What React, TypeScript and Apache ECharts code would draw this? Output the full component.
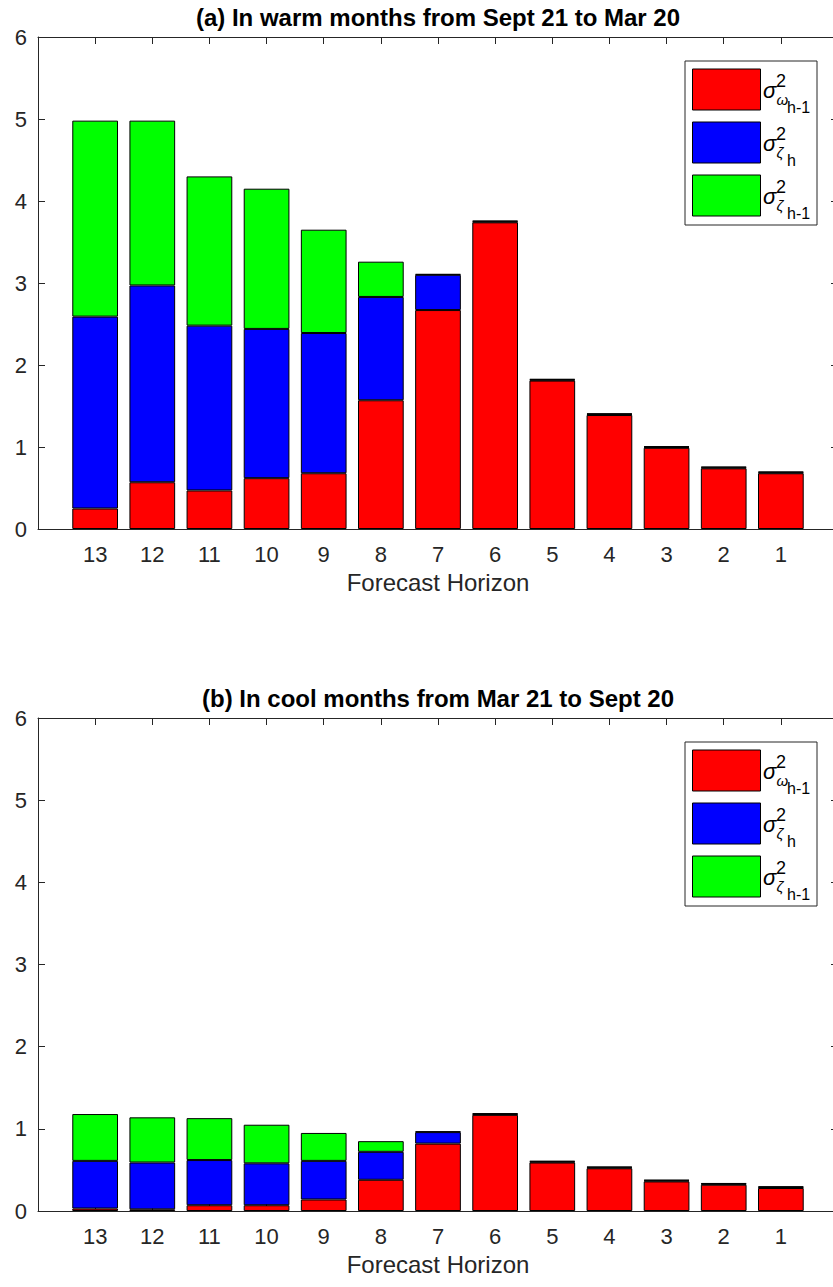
import React, { useEffect, useRef } from "react";
import * as echarts from "echarts";

const horizons = [13, 12, 11, 10, 9, 8, 7, 6, 5, 4, 3, 2, 1];
const yTicks = [0, 1, 2, 3, 4, 5, 6];

// (a) warm months
const warmOmega = [0.25, 0.57, 0.47, 0.62, 0.68, 1.57, 2.67, 3.74, 1.81, 1.39, 0.99, 0.74, 0.68];
const warmZetaH = [2.34, 2.4, 2.01, 1.82, 1.71, 1.26, 0.43, 0.01, 0.01, 0.01, 0.01, 0.01, 0.01];
const warmZetaH1 = [2.39, 2.01, 1.82, 1.71, 1.26, 0.43, 0.01, 0.01, 0.01, 0.01, 0.01, 0.01, 0.01];

// (b) cool months
const coolOmega = [0.03, 0.02, 0.07, 0.07, 0.14, 0.38, 0.82, 1.17, 0.59, 0.52, 0.36, 0.32, 0.28];
const coolZetaH = [0.58, 0.57, 0.55, 0.51, 0.47, 0.34, 0.14, 0.01, 0.01, 0.01, 0.01, 0.01, 0.01];
const coolZetaH1 = [0.57, 0.55, 0.51, 0.47, 0.34, 0.13, 0.01, 0.01, 0.01, 0.01, 0.01, 0.01, 0.01];

const titles = [
  "(a) In warm months from Sept 21 to Mar 20",
  "(b) In cool months from Mar 21 to Sept 20",
];
const seriesNames = ["σ²ω(h-1)", "σ²ζ(h)", "σ²ζ(h-1)"];
const colors = ["#ff0000", "#0000ff", "#00ff00"];

const FONT = "'Liberation Sans', Arial, Helvetica, sans-serif";
const AX = "#262626";

const panels = [
  { top: 37, height: 492, data: [warmOmega, warmZetaH, warmZetaH1] },
  { top: 718, height: 493, data: [coolOmega, coolZetaH, coolZetaH1] },
];
const GRID_LEFT = 38;
const GRID_WIDTH = 800;
const X_UNITS = horizons.length + 1; // frame spans 0..14
const BAND = GRID_WIDTH / X_UNITS;

function legendGraphics(T: number) {
  const els: any[] = [];
  els.push({
    type: "rect",
    shape: { x: 685, y: T + 24, width: 132, height: 164 },
    style: { fill: "#fff", stroke: AX, lineWidth: 1 },
    z: 100,
  });
  const subs = [
    { sym: "ω", sub: "h-1" },
    { sym: "ζ", sub: "h" },
    { sym: "ζ", sub: "h-1" },
  ];
  subs.forEach((s, i) => {
    const py = T + 32 + i * 53;
    const cy = py + 20.5;
    els.push({
      type: "rect",
      shape: { x: 692.5, y: py, width: 68, height: 41 },
      style: { fill: colors[i], stroke: "#000", lineWidth: 1 },
      z: 101,
    });
    els.push({
      type: "text",
      x: 763,
      y: cy + 1,
      style: { text: "σ", fontSize: 22, fontFamily: FONT, fontStyle: "italic", fill: "#000", textAlign: "left", textVerticalAlign: "middle" },
      z: 101,
    });
    els.push({
      type: "text",
      x: 776,
      y: cy - 9,
      style: { text: "2", fontSize: 18, fontFamily: FONT, fill: "#000", textAlign: "left", textVerticalAlign: "middle" },
      z: 101,
    });
    els.push({
      type: "text",
      x: 776.5,
      y: cy + 10,
      style: { text: s.sym, fontSize: 15, fontFamily: FONT, fontStyle: "italic", fill: "#000", textAlign: "left", textVerticalAlign: "middle" },
      z: 101,
    });
    els.push({
      type: "text",
      x: 787,
      y: cy + 18,
      style: { text: s.sub, fontSize: 16, fontFamily: FONT, fill: "#000", textAlign: "left", textVerticalAlign: "middle" },
      z: 101,
    });
  });
  return els;
}

export default function App() {
  const ref = useRef<HTMLDivElement>(null);
  useEffect(() => {
    if (!ref.current) return;
    const chart = echarts.init(ref.current, undefined, { renderer: "svg" });

    const grid: any[] = [];
    const xAxis: any[] = [];
    const yAxis: any[] = [];
    const series: any[] = [];
    const graphic: any[] = [];

    panels.forEach((p, pi) => {
      const frameGrid = pi * 2;
      const barGrid = pi * 2 + 1;
      // frame grid (box with ticks on all sides)
      grid.push({ left: GRID_LEFT, top: p.top, width: GRID_WIDTH, height: p.height, containLabel: false });
      // bar grid: 13 bands centered on frame ticks 1..13
      grid.push({ left: GRID_LEFT + BAND / 2, top: p.top, width: BAND * horizons.length, height: p.height, containLabel: false });

      const baseX = {
        type: "value",
        gridIndex: frameGrid,
        min: 0,
        max: X_UNITS,
        interval: 1,
        splitLine: { show: false },
        axisLine: { show: true, onZero: false, lineStyle: { color: AX, width: 1 } },
        axisTick: { show: true, inside: true, length: 7, lineStyle: { color: AX } },
      };
      xAxis.push({
        ...baseX,
        position: "bottom",
        name: "Forecast Horizon",
        nameLocation: "middle",
        nameGap: 41,
        nameTextStyle: { fontSize: 24, fontFamily: FONT, color: AX },
        axisLabel: {
          show: true,
          margin: 14,
          fontSize: 22,
          fontFamily: FONT,
          color: AX,
          showMinLabel: false,
          showMaxLabel: false,
          formatter: (v: number) => (v >= 1 && v <= horizons.length ? String(horizons[v - 1]) : ""),
        },
      });
      xAxis.push({ ...baseX, position: "top", name: "", axisLabel: { show: false } });
      xAxis.push({
        type: "category",
        gridIndex: barGrid,
        data: horizons.map(String),
        boundaryGap: true,
        show: false,
      });

      const baseY = {
        type: "value",
        gridIndex: frameGrid,
        min: yTicks[0],
        max: yTicks[yTicks.length - 1],
        interval: 1,
        splitLine: { show: false },
        axisLine: { show: true, onZero: false, lineStyle: { color: AX, width: 1 } },
        axisTick: { show: true, inside: true, length: 7, lineStyle: { color: AX } },
      };
      yAxis.push({
        ...baseY,
        position: "left",
        axisLabel: { show: true, margin: 11, fontSize: 22, fontFamily: FONT, color: AX },
      });
      yAxis.push({ ...baseY, position: "right", axisLabel: { show: false } });
      yAxis.push({
        type: "value",
        gridIndex: barGrid,
        min: yTicks[0],
        max: yTicks[yTicks.length - 1],
        show: false,
        splitLine: { show: false },
      });

      p.data.forEach((arr, si) => {
        series.push({
          type: "bar",
          name: seriesNames[si],
          xAxisIndex: pi * 3 + 2,
          yAxisIndex: pi * 3 + 2,
          stack: "panel" + pi,
          barWidth: "80%",
          itemStyle: { color: colors[si], borderColor: "#000", borderWidth: 1 },
          data: arr,
        });
      });

      graphic.push({
        type: "text",
        x: GRID_LEFT + GRID_WIDTH / 2,
        y: p.top - 20,
        style: {
          text: titles[pi],
          fontSize: 24,
          fontWeight: "bold",
          fontFamily: FONT,
          fill: "#000",
          textAlign: "center",
          textVerticalAlign: "middle",
        },
      });
      graphic.push(...legendGraphics(p.top));
    });

    chart.setOption({
      animation: false,
      backgroundColor: "#fff",
      grid,
      xAxis,
      yAxis,
      series,
      graphic,
    });
    return () => chart.dispose();
  }, []);

  return (
    <div style={{ position: "absolute", left: 0, top: 0, width: 833, height: 1287, overflow: "hidden", background: "#fff" }}>
      <div ref={ref} style={{ width: 850, height: 1287 }} />
    </div>
  );
}
